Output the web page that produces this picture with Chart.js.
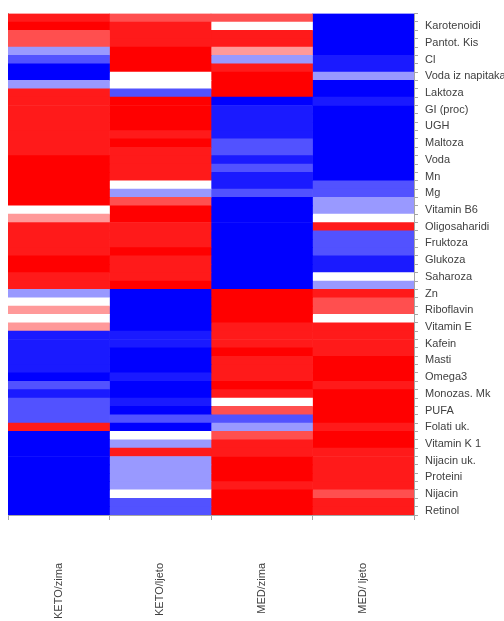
<!DOCTYPE html>
<html>
<head>
<meta charset="utf-8">
<script src="https://cdn.jsdelivr.net/npm/chart.js@4.4.1/dist/chart.umd.min.js"></script>
<style>
  html, body { margin: 0; padding: 0; background: #ffffff; }
  #wrap { width: 504px; height: 621px; position: relative; }
</style>
</head>
<body>
<div id="wrap"><canvas id="c" width="504" height="621"></canvas></div>
<script>
// Column (category) labels
const columns = ['KETO/zima', 'KETO/ljeto', 'MED/zima', 'MED/ ljeto'];

// Row labels (60 rows; only every second one is printed in the reference)
const shownLabels = ['Karotenoidi', 'Pantot. Kis', 'Cl', 'Voda iz napitaka', 'Laktoza',
  'GI (proc)', 'UGH', 'Maltoza', 'Voda', 'Mn', 'Mg', 'Vitamin B6', 'Oligosaharidi',
  'Fruktoza', 'Glukoza', 'Saharoza', 'Zn', 'Riboflavin', 'Vitamin E', 'Kafein', 'Masti',
  'Omega3', 'Monozas. Mk', 'PUFA', 'Folati uk.', 'Vitamin K 1', 'Nijacin uk.', 'Proteini',
  'Nijacin', 'Retinol'];

// Heat levels (-4 = strongest blue ... 0 = white ... 4 = strongest red), top row first
const ketoZima = [3,4,2,2,-1,-2,-4,-4,-1,3, 3,3,3,3,3,3,3,4,4,4, 4,4,4,0,1,3,3,3,3,4,
                  4,3,3,-1,0,1,0,1,-3,-3, -3,-3,-3,-4,-2,-3,-2,-2,-2,3, -4,-4,-4,-4,-4,-4,-4,-4,-4,-4];
const ketoLjeto = [2,3,3,3,4,4,4,0,0,-2, 4,4,4,4,3,4,3,3,3,3, 0,-1,2,4,4,3,3,3,4,3,
                   3,3,4,-4,-4,-4,-4,-4,-3,-3, -4,-4,-4,-3,-4,-4,-3,-4,-2,-4, 0,-1,3,-1,-1,-1,-1,0,-2,-2];
const medZima = [2,0,3,3,1,-1,3,4,4,4, -4,-3,-3,-3,-3,-2,-2,-3,-2,-3, -3,-2,-4,-4,-4,-4,-4,-4,-4,-4,
                 -4,-4,-4,4,4,4,4,3,3,3, 4,3,3,3,4,3,0,2,-2,-1, 2,3,3,4,4,4,3,4,4,4];
const medLjeto = [-4,-4,-4,-4,-4,-3,-3,-1,-4,-4, -3,-4,-4,-4,-4,-4,-4,-4,-4,-4, -2,-2,-1,-1,0,3,-2,-2,-2,-3,
                  -3,0,-1,3,2,2,0,3,3,3, 3,4,4,4,3,4,4,4,4,3, 4,4,3,3,3,3,3,2,3,3];

const levelColors = {
  '-4': '#0000FF', '-3': '#1A1AFF', '-2': '#5252FF', '-1': '#9999FF',
  '0': '#FFFFFF', '1': '#FF9999', '2': '#FF4F4F', '3': '#FF1A1A', '4': '#FF0000'
};

const series = [ketoZima, ketoLjeto, medZima, medLjeto];
const rowCount = ketoZima.length;
const rowLabels = [];
for (let i = 0; i < rowCount; i++) {
  rowLabels.push(i % 2 === 1 ? shownLabels[(i - 1) / 2] : '');
}

const datasets = series.map((vals, k) => ({
  label: columns[k],
  data: vals.map(() => 1),
  backgroundColor: vals.map(v => levelColors[String(v)]),
  borderWidth: 0,
  barPercentage: 1,
  categoryPercentage: 1,
  xAxisID: 'xv',
  yAxisID: 'y'
}));

const axisColor = '#a6a6a6';
const textColor = '#404040';
const font = { family: '"Liberation Sans", Arial, sans-serif', size: 11 };

new Chart(document.getElementById('c'), {
  type: 'bar',
  data: { labels: rowLabels, datasets },
  options: {
    indexAxis: 'y',
    responsive: false,
    animation: false,
    layout: { padding: { top: 12.33, left: 8, right: 0, bottom: 0 } },
    plugins: { legend: { display: false }, tooltip: { enabled: false } },
    scales: {
      xv: {
        type: 'linear', stacked: true, min: 0, max: columns.length, display: false
      },
      x: {
        type: 'category', labels: columns, position: 'bottom', offset: true,
        grid: { display: true, offset: true, drawOnChartArea: false, tickLength: 5, color: axisColor },
        border: { display: true, color: axisColor },
        ticks: { minRotation: 90, maxRotation: 90, padding: 43, color: textColor, font, autoSkip: false },
        afterFit: s => { s.height = 106; }
      },
      y: {
        type: 'category', position: 'right', stacked: true, offset: true,
        grid: { display: true, offset: true, drawOnChartArea: false, tickLength: 4, color: axisColor },
        border: { display: true, color: axisColor },
        ticks: { autoSkip: false, padding: 7, color: textColor, font },
        afterFit: s => { s.width = 90; }
      },
      yl: {
        type: 'linear', position: 'left', display: true,
        grid: { display: false },
        border: { display: true, color: axisColor },
        ticks: { display: false },
        afterFit: s => { s.width = 0; }
      }
    }
  }
});
</script>
</body>
</html>
